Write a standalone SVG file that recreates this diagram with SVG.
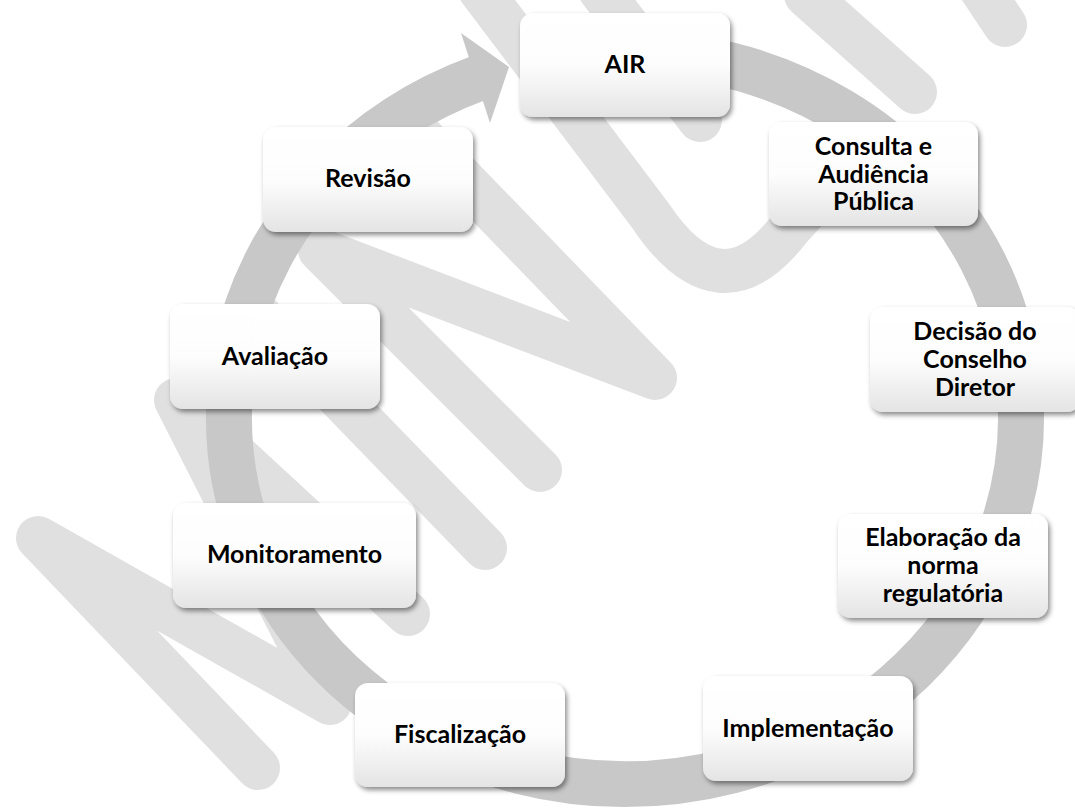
<svg xmlns="http://www.w3.org/2000/svg" width="1075" height="809" viewBox="0 0 1075 809">
<defs>
<linearGradient id="boxfill" x1="0" y1="0" x2="0" y2="1">
<stop offset="0" stop-color="#ffffff"/>
<stop offset="0.5" stop-color="#fdfdfd"/>
<stop offset="1" stop-color="#e4e4e4"/>
</linearGradient>
<filter id="shadow" x="-10%" y="-10%" width="125%" height="130%">
<feDropShadow dx="2" dy="3" stdDeviation="2.5" flood-color="#000" flood-opacity="0.45"/>
</filter>
<style>
.wm{fill:none;stroke:#e0e0e0;stroke-width:44;stroke-linecap:round;stroke-linejoin:round}
.ring{fill:none;stroke:#c8c8c8;stroke-width:46}
.head{fill:#c8c8c8}
.box{fill:url(#boxfill);filter:url(#shadow)}
.lbl{font-family:Lato,"Open Sans","Liberation Sans",sans-serif;font-weight:700;font-size:25px;fill:#000;text-anchor:middle}
</style>
</defs>
<rect width="1075" height="809" fill="#ffffff"/>
<g id="watermark">
<path class="wm" d="M258 768 L38 538 L330 703 L176 400 L408 614"/>
<path class="wm" d="M262 318 L485 548"/>
<path class="wm" d="M540 470 L320 250 L655 378 L420 135"/>
<path class="wm" d="M480 -10 L650 215 Q720 320 790 228 L870 140"/>
<path class="wm" d="M600 -10 L700 120"/>
<path class="wm" d="M806 -5 L915 92"/>
<path class="wm" d="M975 -20 L1005 25"/>
</g>
<g id="connectors">
<path class="ring" d="M560 57 A396 366 0 1 1 479 77.8"/>
<polygon class="head" points="461,33 509,67 490,123"/>
</g>
<g id="node-air">
<rect class="box" x="520" y="13" width="210" height="104" rx="13"/>
<text class="lbl" x="625" y="73">AIR</text>
</g>
<g id="node-consulta">
<rect class="box" x="769" y="122" width="209" height="104" rx="13"/>
<text class="lbl" x="873.5" y="155">Consulta e</text>
<text class="lbl" x="873.5" y="182.5">Audiência</text>
<text class="lbl" x="873.5" y="210">Pública</text>
</g>
<g id="node-decisao">
<rect class="box" x="870" y="307" width="210" height="105" rx="13"/>
<text class="lbl" x="975" y="339.5">Decisão do</text>
<text class="lbl" x="975" y="367.5">Conselho</text>
<text class="lbl" x="975" y="395.5">Diretor</text>
</g>
<g id="node-elaboracao">
<rect class="box" x="838" y="514" width="210" height="104" rx="13"/>
<text class="lbl" x="943" y="546">Elaboração da</text>
<text class="lbl" x="943" y="574">norma</text>
<text class="lbl" x="943" y="602">regulatória</text>
</g>
<g id="node-implementacao">
<rect class="box" x="703" y="676" width="210" height="105" rx="13"/>
<text class="lbl" x="808" y="737">Implementação</text>
</g>
<g id="node-fiscalizacao">
<rect class="box" x="355" y="683" width="210" height="104" rx="13"/>
<text class="lbl" x="460" y="743">Fiscalização</text>
</g>
<g id="node-monitoramento">
<rect class="box" x="173" y="503" width="243" height="105" rx="13"/>
<text class="lbl" x="294.5" y="563">Monitoramento</text>
</g>
<g id="node-avaliacao">
<rect class="box" x="170" y="304" width="210" height="105" rx="13"/>
<text class="lbl" x="275" y="364.5">Avaliação</text>
</g>
<g id="node-revisao">
<rect class="box" x="263" y="127" width="210" height="105" rx="13"/>
<text class="lbl" x="368" y="187">Revisão</text>
</g>
</svg>
